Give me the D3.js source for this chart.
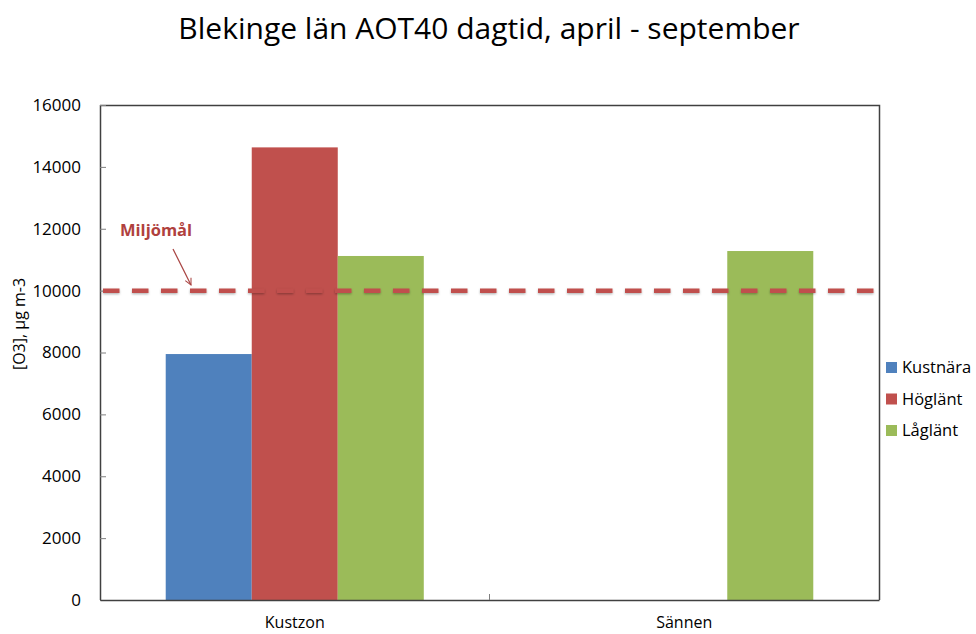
<!DOCTYPE html>
<html>
<head>
<meta charset="utf-8">
<script src="https://cdn.jsdelivr.net/npm/d3@7"></script>
<style>
  body { margin: 0; background: #fff; }
  svg text { font-family: "Open Sans", "Liberation Sans", sans-serif; fill: #000; }
</style>
</head>
<body>
<svg id="chart" width="976" height="634"></svg>
<script>
// chart data
const categories = ["Kustzon", "Sännen"];
const seriesNames = ["Kustnära", "Höglänt", "Låglänt"];
const kustnara = [7950, null];
const hoglant = [14630, null];
const laglant = [11120, 11280];
const seriesColors = ["#4F81BD", "#C0504D", "#9BBB59"];
const yTicks = [0, 2000, 4000, 6000, 8000, 10000, 12000, 14000, 16000];
const targetValue = 10000;

const seriesValues = [kustnara, hoglant, laglant];

const svg = d3.select("#chart");
const margin = { top: 105, right: 97, bottom: 34, left: 100 };
const width = +svg.attr("width");
const height = +svg.attr("height");
const plotW = width - margin.left - margin.right;
const plotH = height - margin.top - margin.bottom;

const defs = svg.append("defs");
const shadow = defs.append("filter").attr("id", "dashShadow")
    .attr("filterUnits", "userSpaceOnUse")
    .attr("x", 0).attr("y", 0).attr("width", width).attr("height", height);
shadow.append("feDropShadow")
    .attr("dx", 0).attr("dy", 1.2).attr("stdDeviation", 1)
    .attr("flood-color", "#000").attr("flood-opacity", 0.3);

defs.append("marker")
    .attr("id", "arrowHead")
    .attr("viewBox", "0 0 10 10")
    .attr("refX", 9).attr("refY", 5)
    .attr("markerWidth", 8).attr("markerHeight", 8)
    .attr("markerUnits", "userSpaceOnUse")
    .attr("orient", "auto")
    .append("path")
    .attr("d", "M1,1 L9,5 L1,9")
    .attr("fill", "none")
    .attr("stroke", "#A94442")
    .attr("stroke-width", 1.3);

// title
svg.append("text")
    .attr("x", 489)
    .attr("y", 39)
    .attr("text-anchor", "middle")
    .style("font-size", "30px")
    .text("Blekinge län AOT40 dagtid, april - september");

const g = svg.append("g").attr("transform", `translate(${margin.left},${margin.top})`);

const x0 = d3.scaleBand().domain(categories).range([0, plotW]).padding(0);
const x1 = d3.scaleBand().domain(seriesNames).range([0, x0.bandwidth()])
    .paddingInner(0).paddingOuter(0.764);
const y = d3.scaleLinear().domain([0, 16000]).range([plotH, 0]);

// bars
const rows = categories.map((c, i) => ({
    category: c,
    values: seriesNames.map((s, j) => ({ series: s, color: seriesColors[j], value: seriesValues[j][i] }))
}));

g.append("g").selectAll("g")
    .data(rows)
    .join("g")
    .attr("transform", d => `translate(${x0(d.category)},0)`)
    .selectAll("rect")
    .data(d => d.values.filter(v => v.value != null))
    .join("rect")
    .attr("x", d => x1(d.series))
    .attr("width", x1.bandwidth())
    .attr("y", d => y(d.value))
    .attr("height", d => plotH - y(d.value))
    .attr("fill", d => d.color);

// plot frame top/right
g.append("path")
    .attr("d", `M0,0.5 H${plotW + 0.5} V${plotH}`)
    .attr("fill", "none")
    .attr("stroke", "#404040")
    .attr("stroke-width", 1.5);

// y axis
const yAxis = g.append("g")
    .call(d3.axisLeft(y).tickValues(yTicks).tickSize(-6).tickPadding(19).tickFormat(d3.format("d")));
yAxis.select(".domain").attr("stroke", "#404040").attr("stroke-width", 1.5).attr("d", `M0.5,0 V${plotH}`);
yAxis.selectAll(".tick line").attr("stroke", "#7f7f7f");
yAxis.selectAll("text").style("font-size", "17px").style("font-family", "'Open Sans', sans-serif").attr("fill", "#000");

// x axis
const xAxis = g.append("g")
    .attr("transform", `translate(0,${plotH})`)
    .call(d3.axisBottom(x0).tickSize(0).tickPadding(17));
xAxis.select(".domain").attr("stroke", "#404040").attr("stroke-width", 1.5);
xAxis.selectAll("text").style("font-size", "16px").style("font-family", "'Open Sans', sans-serif").attr("fill", "#000");
xAxis.append("line")
    .attr("x1", x0.step()).attr("x2", x0.step())
    .attr("y1", 0).attr("y2", -6)
    .attr("stroke", "#7f7f7f");

// y axis title
svg.append("text")
    .attr("transform", "translate(25,324) rotate(-90)")
    .attr("text-anchor", "middle")
    .style("font-size", "16px")
    .text("[O3], µg m-3");

// target line
g.append("line")
    .attr("x1", 3).attr("x2", plotW - 3)
    .attr("y1", y(targetValue)).attr("y2", y(targetValue))
    .attr("stroke", "#C0504D")
    .attr("stroke-width", 4.5)
    .attr("stroke-dasharray", "16.5 12.5")
    .attr("filter", "url(#dashShadow)");

// annotation
svg.append("text")
    .attr("x", 120)
    .attr("y", 236)
    .style("font-size", "16.5px")
    .style("font-weight", "bold")
    .style("fill", "#B0413E")
    .text("Miljömål");

svg.append("line")
    .attr("x1", 173).attr("y1", 249)
    .attr("x2", 191).attr("y2", 285)
    .attr("stroke", "#A94442")
    .attr("stroke-width", 1.2)
    .attr("marker-end", "url(#arrowHead)");

// legend
const legend = svg.append("g").attr("transform", "translate(886,362)");
const item = legend.selectAll("g")
    .data(seriesNames)
    .join("g")
    .attr("transform", (d, i) => `translate(0,${i * 31.5})`);
item.append("rect")
    .attr("width", 11).attr("height", 11)
    .attr("fill", (d, i) => seriesColors[i]);
item.append("text")
    .attr("x", 16).attr("y", 11)
    .style("font-size", "16.5px")
    .text(d => d);
</script>
</body>
</html>
